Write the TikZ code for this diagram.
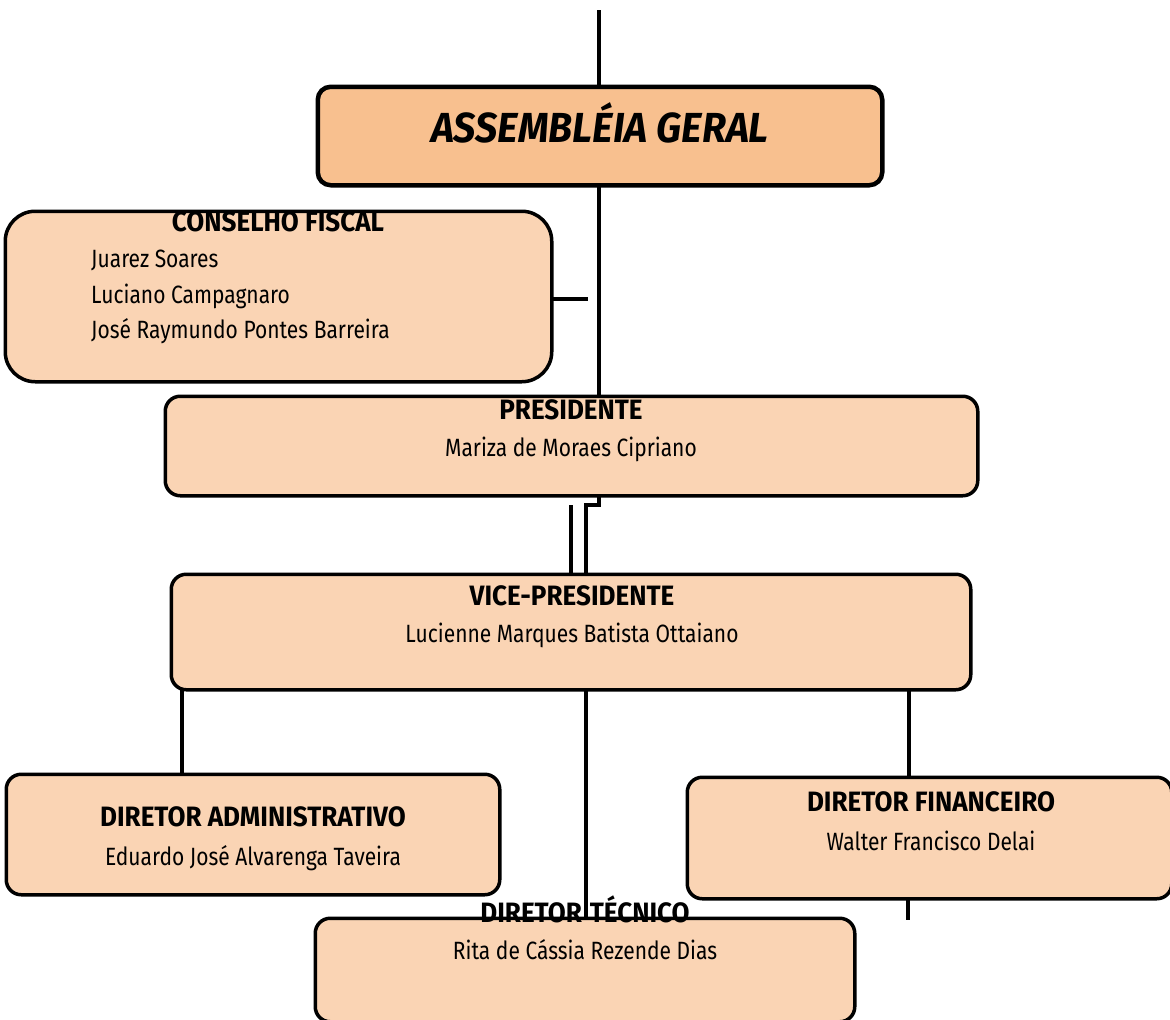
\documentclass[tikz,border=0pt]{standalone}
\usepackage{fontspec}
\setmainfont{Fira Sans}
\newfontfamily\nmfont{Fira Sans}[FakeStretch=0.84]
\newfontfamily\ttlfont{Fira Sans}[FakeStretch=0.93]
\newfontfamily\bigfont{Fira Sans}[FakeStretch=0.94]
\definecolor{assemfill}{HTML}{F8C08F}
\definecolor{boxfill}{HTML}{FAD4B4}
\tikzset{
  box/.style={draw=black, fill=boxfill, line width=3.5pt, rounded corners=15pt, inner sep=0pt},
  link/.style={draw=black, line width=4pt},
  ttl/.style={font=\ttlfont\fontsize{28}{30}\selectfont\bfseries, inner sep=0pt, anchor=base},
  nm/.style={font=\nmfont\fontsize{25}{27}\selectfont, inner sep=0pt, anchor=base},
}
\begin{document}
\begin{tikzpicture}[x=1pt,y=-1pt]
\useasboundingbox (0,0) rectangle (1170,1020);
% boxes (positions in px)
\node[box, fill=assemfill, line width=4.5pt, rounded corners=13pt, minimum width=560pt, minimum height=94pt] (assem) at (600,136) {};
\node[box, rounded corners=30pt, minimum width=543pt, minimum height=167pt] (cons) at (278.5,296.5) {};
\node[box, minimum width=809pt, minimum height=96pt] (pres) at (571.5,446) {};
\node[box, minimum width=796pt, minimum height=112pt] (vice) at (571,632) {};
\node[box, minimum width=490pt, minimum height=117pt] (adm) at (253,834.5) {};
\node[box, minimum width=481pt, minimum height=118pt] (fin) at (929.5,838) {};
\node[box, minimum width=536pt, minimum height=100pt] (tec) at (585,970) {};
% connectors
\coordinate (top) at (599,10);
\coordinate (consend) at (588,299);
\coordinate (jogA) at (599,505);
\coordinate (jogB) at (586,505);
\coordinate (par) at (571,505);
\coordinate (finend) at (908,920);
\draw[link] (top) -- (top |- assem.north);
\draw[link] (assem.south -| top) -- (top |- pres.north);
\draw[link] (cons.east |- consend) -- (consend);
\draw[link] (jogA |- pres.south) -- (jogA) -- (jogB) -- (jogB |- vice.north);
\draw[link] (par) -- (par |- vice.north);
\draw[link] (182,0 |- vice.south) -- (182,0 |- adm.north);
\draw[link] (jogB |- vice.south) -- (jogB |- tec.north);
\draw[link] (909,0 |- vice.south) -- (909,0 |- fin.north);
\draw[link] (finend |- fin.south) -- (finend);
% redraw boxes over connector ends
\path[box, fill=assemfill, line width=4.5pt, rounded corners=13pt] (assem.south west) rectangle (assem.north east);
\path[box, rounded corners=30pt] (cons.south west) rectangle (cons.north east);
\path[box] (pres.south west) rectangle (pres.north east);
\path[box] (vice.south west) rectangle (vice.north east);
\path[box] (adm.south west) rectangle (adm.north east);
\path[box] (fin.south west) rectangle (fin.north east);
\path[box] (tec.south west) rectangle (tec.north east);
% texts
\node[font=\bigfont\fontsize{42}{44}\selectfont\bfseries\itshape, inner sep=0pt, anchor=base] (assemt) at (600,142) {ASSEMBLÉIA GERAL};
\node[ttl] (const) at (278,231) {CONSELHO FISCAL};
\node[nm, anchor=base west] (c1) at (91,267) {Juarez Soares};
\node[nm, anchor=base west] (c2) at (91,303) {Luciano Campagnaro};
\node[nm, anchor=base west] (c3) at (91,338) {José Raymundo Pontes Barreira};
\node[ttl] (prest) at (571,419) {PRESIDENTE};
\node[nm] (presn) at (571,456) {Mariza de Moraes Cipriano};
\node[ttl] (vicet) at (572,605) {VICE-PRESIDENTE};
\node[nm] (vicen) at (572,642) {Lucienne Marques Batista Ottaiano};
\node[ttl] (admt) at (253,826) {DIRETOR ADMINISTRATIVO};
\node[nm] (admn) at (253,865) {Eduardo José Alvarenga Taveira};
\node[ttl] (fint) at (931,811) {DIRETOR FINANCEIRO};
\node[nm] (finn) at (931,850) {Walter Francisco Delai};
\node[ttl] (tect) at (585,922) {DIRETOR\hspace{8pt}TÉCNICO};
\node[nm] (tecn) at (585,959) {Rita de Cássia Rezende Dias};
\end{tikzpicture}
\end{document}
